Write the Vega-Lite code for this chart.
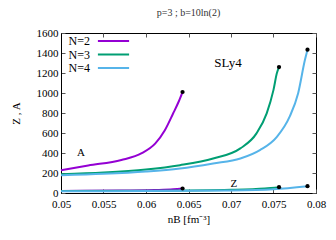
{
  "$schema": "https://vega.github.io/schema/vega-lite/v6.json",
  "width": 255,
  "height": 160,
  "autosize": {"type": "none"},
  "padding": {"left": 61, "top": 33, "right": 20, "bottom": 47},
  "background": "white",
  "title": {"text": "p=3 ; b=10ln(2)", "font": "Liberation Serif", "fontSize": 10, "fontWeight": "normal", "color": "#333", "offset": 9, "anchor": "middle"},
  "config": {
    "view": {"stroke": "black", "strokeWidth": 1},
    "font": "Liberation Serif",
    "axis": {"labelFont": "Liberation Serif", "titleFont": "Liberation Serif", "labelFontSize": 11, "titleFontSize": 11, "titleFontWeight": "normal", "labelColor": "black", "titleColor": "black", "grid": false, "domainColor": "black", "tickColor": "#555", "tickSize": -4, "labelPadding": 7}
  },
  "datasets": {
    "curves": [
      {"N": "N=2", "q": "A", "x": 0.05, "y": 228},
      {"N": "N=2", "q": "A", "x": 0.0532, "y": 275},
      {"N": "N=2", "q": "A", "x": 0.0571, "y": 330},
      {"N": "N=2", "q": "A", "x": 0.0595, "y": 398},
      {"N": "N=2", "q": "A", "x": 0.0611, "y": 496},
      {"N": "N=2", "q": "A", "x": 0.0622, "y": 625},
      {"N": "N=2", "q": "A", "x": 0.0632, "y": 797},
      {"N": "N=2", "q": "A", "x": 0.0638, "y": 905},
      {"N": "N=2", "q": "A", "x": 0.0643, "y": 1010},
      {"N": "N=2", "q": "Z", "x": 0.05, "y": 21},
      {"N": "N=2", "q": "Z", "x": 0.0571, "y": 24},
      {"N": "N=2", "q": "Z", "x": 0.061, "y": 30},
      {"N": "N=2", "q": "Z", "x": 0.0632, "y": 37},
      {"N": "N=2", "q": "Z", "x": 0.0643, "y": 45},
      {"N": "N=3", "q": "A", "x": 0.05, "y": 188},
      {"N": "N=3", "q": "A", "x": 0.055, "y": 205},
      {"N": "N=3", "q": "A", "x": 0.06, "y": 235},
      {"N": "N=3", "q": "A", "x": 0.064, "y": 278},
      {"N": "N=3", "q": "A", "x": 0.0679, "y": 345},
      {"N": "N=3", "q": "A", "x": 0.0711, "y": 446},
      {"N": "N=3", "q": "A", "x": 0.073, "y": 596},
      {"N": "N=3", "q": "A", "x": 0.0742, "y": 797},
      {"N": "N=3", "q": "A", "x": 0.075, "y": 1031},
      {"N": "N=3", "q": "A", "x": 0.0754, "y": 1199},
      {"N": "N=3", "q": "A", "x": 0.07565, "y": 1259},
      {"N": "N=3", "q": "Z", "x": 0.05, "y": 19},
      {"N": "N=3", "q": "Z", "x": 0.06, "y": 22},
      {"N": "N=3", "q": "Z", "x": 0.07, "y": 32},
      {"N": "N=3", "q": "Z", "x": 0.074, "y": 45},
      {"N": "N=3", "q": "Z", "x": 0.07565, "y": 58},
      {"N": "N=4", "q": "A", "x": 0.05, "y": 178},
      {"N": "N=4", "q": "A", "x": 0.055, "y": 192},
      {"N": "N=4", "q": "A", "x": 0.06, "y": 215},
      {"N": "N=4", "q": "A", "x": 0.064, "y": 245},
      {"N": "N=4", "q": "A", "x": 0.0679, "y": 295},
      {"N": "N=4", "q": "A", "x": 0.0711, "y": 345},
      {"N": "N=4", "q": "A", "x": 0.0734, "y": 429},
      {"N": "N=4", "q": "A", "x": 0.0754, "y": 562},
      {"N": "N=4", "q": "A", "x": 0.0769, "y": 763},
      {"N": "N=4", "q": "A", "x": 0.0779, "y": 998},
      {"N": "N=4", "q": "A", "x": 0.0787, "y": 1332},
      {"N": "N=4", "q": "A", "x": 0.079, "y": 1433},
      {"N": "N=4", "q": "Z", "x": 0.05, "y": 18},
      {"N": "N=4", "q": "Z", "x": 0.06, "y": 20},
      {"N": "N=4", "q": "Z", "x": 0.07, "y": 26},
      {"N": "N=4", "q": "Z", "x": 0.075, "y": 38},
      {"N": "N=4", "q": "Z", "x": 0.079, "y": 68}
    ],
    "ends": [
      {"x": 0.0643, "y": 1010},
      {"x": 0.0643, "y": 45},
      {"x": 0.07565, "y": 1259},
      {"x": 0.07565, "y": 58},
      {"x": 0.079, "y": 1433},
      {"x": 0.079, "y": 68}
    ],
    "labels": [
      {"t": "A", "x": 0.05235, "y": 396, "s": 11},
      {"t": "Z", "x": 0.07035, "y": 94, "s": 11},
      {"t": "SLy4", "x": 0.06965, "y": 1302, "s": 13}
    ]
  },
  "layer": [
    {
      "data": {"name": "curves"},
      "mark": {"type": "line", "strokeWidth": 2, "interpolate": "monotone"},
      "encoding": {
        "x": {"field": "x", "type": "quantitative", "scale": {"domain": [0.05, 0.08], "nice": false, "zero": false},
              "axis": {"orient": "bottom", "title": "nB [fm⁻³]", "values": [0.05, 0.055, 0.06, 0.065, 0.07, 0.075, 0.08], "format": "~g", "labelPadding": 9, "titlePadding": 4, "labelFlush": false}},
        "y": {"field": "y", "type": "quantitative", "scale": {"domain": [0, 1600], "nice": false},
              "axis": {"orient": "left", "title": "Z , A", "values": [0, 200, 400, 600, 800, 1000, 1200, 1400, 1600], "format": "d", "titlePadding": 15, "labelFlush": false}},
        "color": {"field": "N", "type": "nominal",
                  "scale": {"domain": ["N=2", "N=3", "N=4"], "range": ["#9400d3", "#009e73", "#56b4e9"]},
                  "legend": {"title": null, "orient": "none", "legendX": 45.5, "legendY": 1, "symbolType": "M-2.6,0H2.6", "symbolSize": 144, "symbolStrokeWidth": 2, "labelAlign": "right", "labelOffset": -30.5, "labelFont": "Liberation Serif", "labelFontSize": 12, "labelColor": "black", "rowPadding": 0.5, "symbolOffset": 0, "padding": 0}},
        "detail": {"field": "q"}
      }
    },
    {
      "data": {"name": "ends"},
      "mark": {"type": "circle", "color": "black", "size": 18, "opacity": 1},
      "encoding": {
        "x": {"field": "x", "type": "quantitative", "axis": null},
        "y": {"field": "y", "type": "quantitative", "axis": null}
      }
    },
    {
      "data": {"name": "labels"},
      "mark": {"type": "text", "font": "Liberation Serif", "color": "black", "align": "center", "baseline": "middle"},
      "encoding": {
        "x": {"field": "x", "type": "quantitative", "axis": null},
        "y": {"field": "y", "type": "quantitative", "axis": null},
        "text": {"field": "t"},
        "size": {"field": "s", "type": "quantitative", "scale": null}
      }
    },
    {
      "data": {"values": [{"x": 0.05, "y": 0}]},
      "mark": {"type": "point", "opacity": 0},
      "encoding": {
        "x": {"field": "x", "type": "quantitative", "axis": {"orient": "top", "labels": false, "title": null, "domain": false, "values": [0.05, 0.055, 0.06, 0.065, 0.07, 0.075, 0.08]}},
        "y": {"field": "y", "type": "quantitative", "axis": {"orient": "right", "labels": false, "title": null, "domain": false, "values": [0, 200, 400, 600, 800, 1000, 1200, 1400, 1600]}}
      }
    }
  ],
  "resolve": {"axis": {"x": "independent", "y": "independent"}}
}
